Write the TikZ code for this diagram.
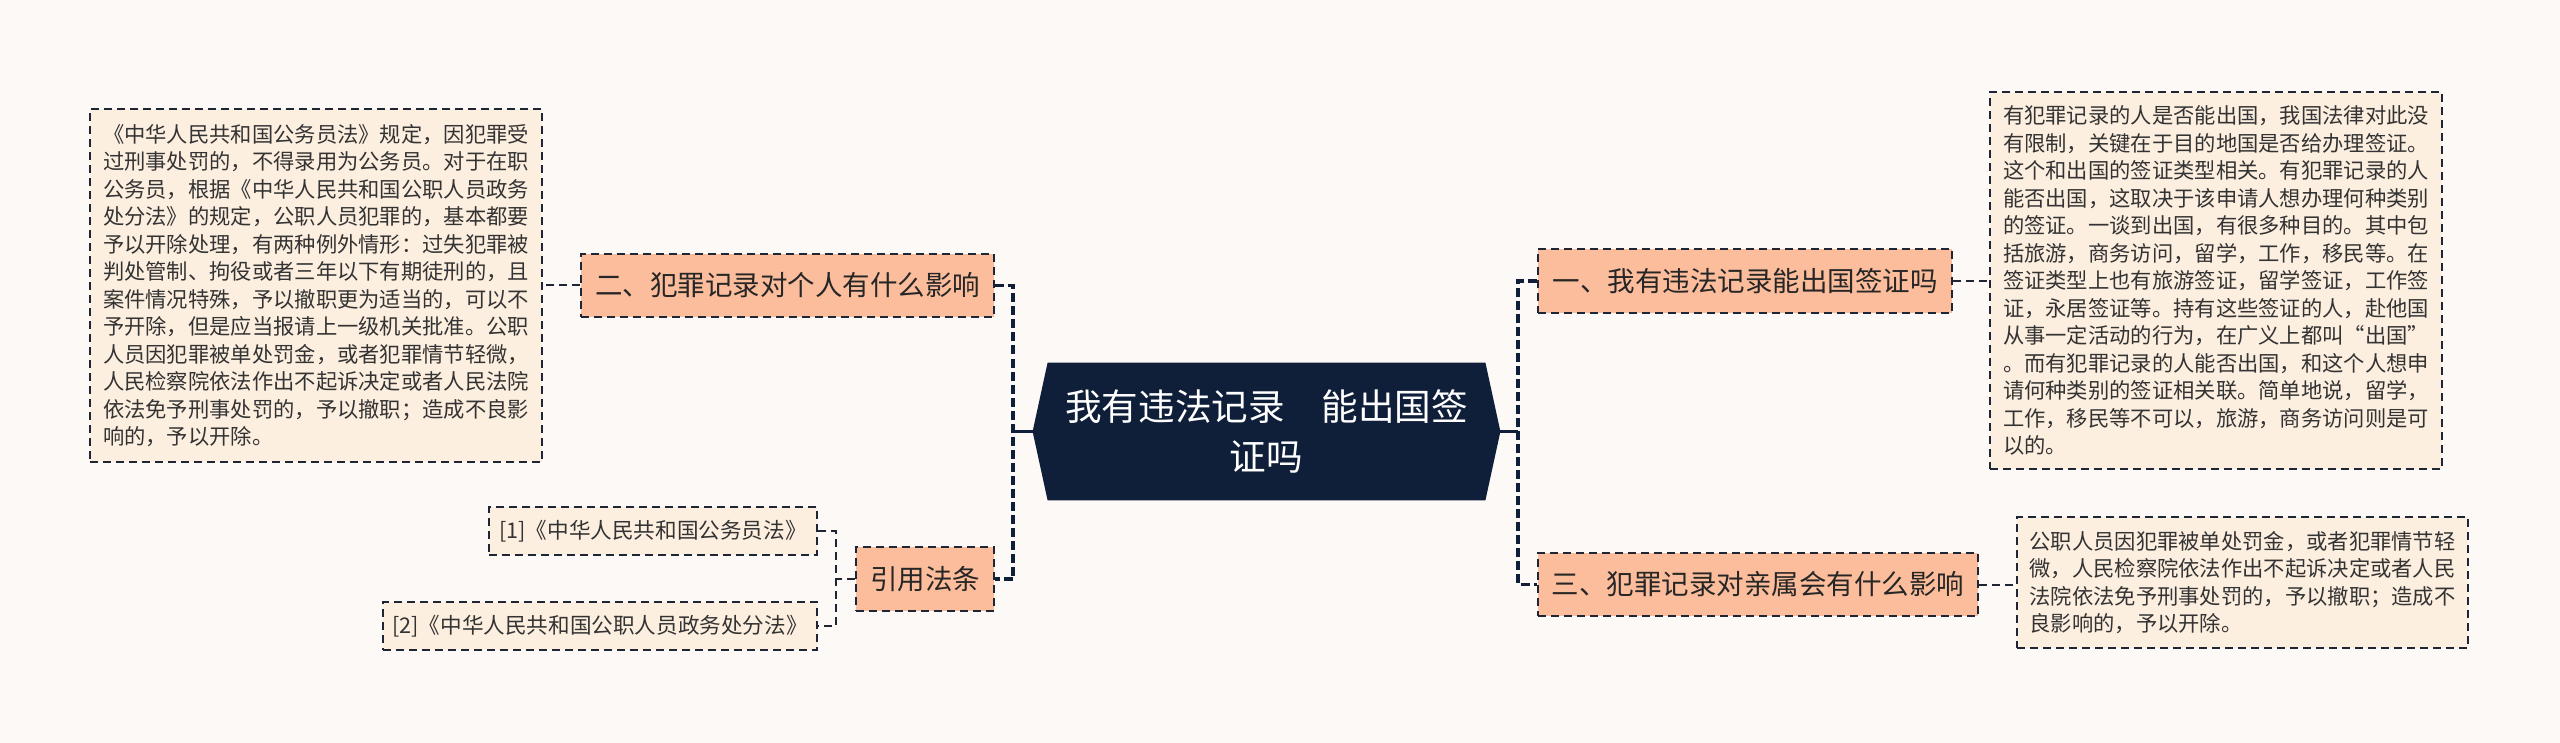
\documentclass[tikz,border=0pt]{standalone}
\usepackage{fontspec}
\setmainfont{Noto Sans CJK SC}
\usetikzlibrary{calc,backgrounds}
\definecolor{bg}{HTML}{FDF9F7}
\definecolor{leaf}{HTML}{FDEFE0}
\definecolor{branch}{HTML}{FBBD9B}
\definecolor{navy}{HTML}{0F1F3A}
\definecolor{edge}{HTML}{1E2535}
\definecolor{txt}{HTML}{333333}
\begin{document}
\begin{tikzpicture}[x=0.5pt,y=-0.5pt,
 leafbox/.style={draw=edge, fill=leaf, line width=1pt, dash pattern=on 4pt off 2.5pt, inner sep=0pt, align=left, text=txt, font=\fontsize{10.65}{13.75}\selectfont},
 branchbox/.style={draw=edge, fill=branch, line width=1pt, dash pattern=on 4pt off 2.5pt, inner sep=0pt, text=black!85, font=\fontsize{13.75}{16}\selectfont},
 thinlink/.style={draw=edge, line width=1pt, dash pattern=on 4pt off 2.5pt},
 thicklink/.style={draw=navy, line width=1.6pt, dash pattern=on 4.5pt off 2pt},
 solidlink/.style={draw=navy, line width=1.2pt},
]
\useasboundingbox (0,0) rectangle (2560,743);
\begin{scope}[on background layer]
\fill[bg] (0,0) rectangle (2560,743);
\end{scope}

% left big leaf
\node[leafbox, minimum width=226pt, minimum height=176.5pt] (L1) at (316,285.5) {%
《中华人民共和国公务员法》规定，因犯罪受\\
过刑事处罚的，不得录用为公务员。对于在职\\
公务员，根据《中华人民共和国公职人员政务\\
处分法》的规定，公职人员犯罪的，基本都要\\
予以开除处理，有两种例外情形：过失犯罪被\\
判处管制、拘役或者三年以下有期徒刑的，且\\
案件情况特殊，予以撤职更为适当的，可以不\\
予开除，但是应当报请上一级机关批准。公职\\
人员因犯罪被单处罚金，或者犯罪情节轻微，\\
人民检察院依法作出不起诉决定或者人民法院\\
依法免予刑事处罚的，予以撤职；造成不良影\\
响的，予以开除。};

% branches
\node[branchbox, minimum width=206.5pt, minimum height=31.5pt] (N2) at (787.5,285.5) {二、犯罪记录对个人有什么影响};
\node[branchbox, minimum width=69pt, minimum height=32pt] (N4) at (925,579) {引用法条};
\node[branchbox, minimum width=207pt, minimum height=32pt] (N1) at (1745,281) {一、我有违法记录能出国签证吗};
\node[branchbox, minimum width=220pt, minimum height=31.5pt] (N3) at (1758,584.5) {三、犯罪记录对亲属会有什么影响};

% citation leaves
\node[leafbox, minimum width=164pt, minimum height=24pt, font=\fontsize{10.8}{13}\selectfont] (L4a) at (653,531) {[1]《中华人民共和国公务员法》};
\node[leafbox, minimum width=217pt, minimum height=24pt, font=\fontsize{10.8}{13}\selectfont] (L4b) at (600,626) {[2]《中华人民共和国公职人员政务处分法》};

% right leaves
\node[leafbox, minimum width=226pt, minimum height=188.5pt] (R1) at (2216,280.5) {%
有犯罪记录的人是否能出国，我国法律对此没\\
有限制，关键在于目的地国是否给办理签证。\\
这个和出国的签证类型相关。有犯罪记录的人\\
能否出国，这取决于该申请人想办理何种类别\\
的签证。一谈到出国，有很多种目的。其中包\\
括旅游，商务访问，留学，工作，移民等。在\\
签证类型上也有旅游签证，留学签证，工作签\\
证，永居签证等。持有这些签证的人，赴他国\\
从事一定活动的行为，在广义上都叫“出国”\\
。而有犯罪记录的人能否出国，和这个人想申\\
请何种类别的签证相关联。简单地说，留学，\\
工作，移民等不可以，旅游，商务访问则是可\\
以的。};
\node[leafbox, minimum width=225.5pt, minimum height=65.5pt] (R3) at (2242.5,582.5) {%
公职人员因犯罪被单处罚金，或者犯罪情节轻\\
微，人民检察院依法作出不起诉决定或者人民\\
法院依法免予刑事处罚的，予以撤职；造成不\\
良影响的，予以开除。};

% central node
\node[minimum width=233.5pt, minimum height=68.5pt, inner sep=0pt, text=white, align=center, font=\fontsize{18.3}{25}\selectfont] (C) at (1266.5,431.5) {我有违法记录　能出国签\\证吗};
\begin{scope}[on background layer]
\fill[navy] (C.west) -- ([xshift=7.5pt]C.north west) -- ([xshift=-7.5pt]C.north east) -- (C.east) -- ([xshift=-7.5pt]C.south east) -- ([xshift=7.5pt]C.south west) -- cycle;
\end{scope}

% trunks
\coordinate (LT) at (1013,431.5);
\coordinate (RT) at (1518,431.5);
\coordinate (NT) at (836,579);
\draw[thicklink] (N2.east) -| (LT) |- (N4.east);
\draw[solidlink] (C.west) -- (LT);
\draw[thicklink] (N1.west) -| (RT) |- (N3.west);
\draw[solidlink] (C.east) -- (RT);

% thin links
\draw[thinlink] (N2.west) -- (L1.east);
\draw[thinlink] (N1.east) -- (N1.east -| R1.west);
\draw[thinlink] (N3.east) -- (N3.east -| R3.west);
\draw[thinlink] (N4.west) -- (NT);
\draw[thinlink] (L4a.east) -| (NT) |- (L4b.east);
\end{tikzpicture}
\end{document}
